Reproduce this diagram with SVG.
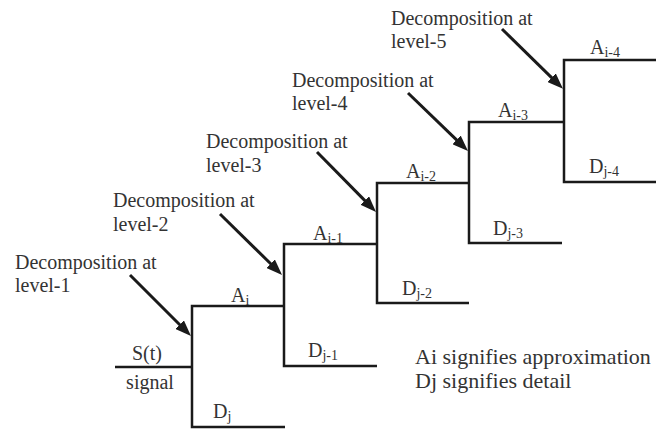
<svg xmlns="http://www.w3.org/2000/svg" width="661" height="429" viewBox="0 0 661 429">
<defs>
<marker id="ah" viewBox="0 0 16 12" refX="4" refY="6" markerWidth="16" markerHeight="12" markerUnits="userSpaceOnUse" orient="auto"><path d="M0,0 L16,6 L0,12 z" fill="#1a1a1a"/></marker>
</defs>
<style>
.ln{fill:none;stroke:#1a1a1a;stroke-width:2.5}
.t{fill:#333;font-size:20px}
.s{font-size:14px}
.lg{font-size:22px}
.ar{fill:none;stroke:#1a1a1a;stroke-width:3;marker-end:url(#ah)}
</style>
<rect width="661" height="429" fill="#fff"/>
<g font-family="'Liberation Serif', 'DejaVu Serif', serif">
<g id="signal">
<path class="ln" d="M115,367 H191"/>
<text class="t" x="147" y="360" text-anchor="middle">S(t)</text>
<text class="t" x="150" y="389" text-anchor="middle">signal</text>
</g>
<g id="level1">
<path class="ln" d="M285,306 H192 V427 H285"/>
<text class="t" x="231" y="302">A<tspan class="s" dy="3">i</tspan></text>
<text class="t" x="213" y="418">D<tspan class="s" dy="3">j</tspan></text>
</g>
<g id="level2">
<path class="ln" d="M377,244 H284 V366 H377"/>
<text class="t" x="313" y="240">A<tspan class="s" dy="3">i-1</tspan></text>
<text class="t" x="308" y="357">D<tspan class="s" dy="3">j-1</tspan></text>
</g>
<g id="level3">
<path class="ln" d="M469,183 H377 V303 H469"/>
<text class="t" x="406" y="178">A<tspan class="s" dy="3">i-2</tspan></text>
<text class="t" x="402" y="295">D<tspan class="s" dy="3">j-2</tspan></text>
</g>
<g id="level4">
<path class="ln" d="M564,122 H469 V243 H562"/>
<text class="t" x="498" y="117">A<tspan class="s" dy="3">i-3</tspan></text>
<text class="t" x="493" y="235">D<tspan class="s" dy="3">j-3</tspan></text>
</g>
<g id="level5">
<path class="ln" d="M656,60 H564 V182 H656"/>
<text class="t" x="590" y="54">A<tspan class="s" dy="3">i-4</tspan></text>
<text class="t" x="589" y="173">D<tspan class="s" dy="3">j-4</tspan></text>
</g>
<g id="labels">
<text class="t" x="15" y="269">Decomposition at</text>
<text class="t" x="15" y="292">level-1</text>
<text class="t" x="113" y="207">Decomposition at</text>
<text class="t" x="113" y="231">level-2</text>
<text class="t" x="206" y="148">Decomposition at</text>
<text class="t" x="206" y="172">level-3</text>
<text class="t" x="292" y="87">Decomposition at</text>
<text class="t" x="292" y="110">level-4</text>
<text class="t" x="391" y="25">Decomposition at</text>
<text class="t" x="391" y="48">level-5</text>
</g>
<g id="legend">
<text class="t lg" x="415" y="364">Ai signifies approximation</text>
<text class="t lg" x="415" y="388">Dj signifies detail</text>
</g>
</g>
<g id="connectors">
<path class="ar" d="M130,275 L182.5,327.5"/>
<path class="ar" d="M220,214 L273.5,266.5"/>
<path class="ar" d="M317,152 L367.6,203.4"/>
<path class="ar" d="M408,93 L459.4,142.7"/>
<path class="ar" d="M502,29 L554.4,80.4"/>
</g>
</svg>
